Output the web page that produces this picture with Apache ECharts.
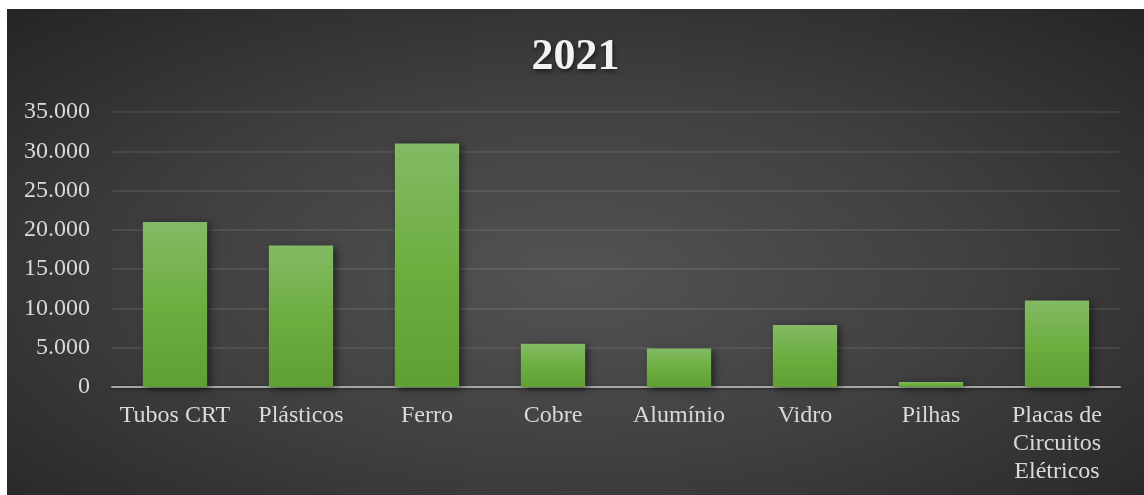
<!DOCTYPE html>
<html>
<head>
<meta charset="utf-8">
<script src="https://cdn.jsdelivr.net/npm/echarts@6/dist/echarts.min.js"></script>
<style>
  html, body { margin: 0; padding: 0; background: #ffffff; }
  #chart {
    position: absolute; left: 7px; top: 9px; width: 1137px; height: 486px;
    background: radial-gradient(ellipse 70% 75% at 50% 55%, #535353 0%, #404040 50%, #262626 100%);
  }
</style>
</head>
<body>
<div id="chart"></div>
<script>
// Resíduos eletrônicos por material, 2021
const titleText = '2021';
const categories = ['Tubos CRT', 'Plásticos', 'Ferro', 'Cobre', 'Alumínio', 'Vidro', 'Pilhas', 'Placas de\nCircuitos\nElétricos'];
const values = [21000, 18000, 31000, 5500, 4900, 7900, 650, 11000];
const yMin = 0, yMax = 35000, yStep = 5000;

const serif = '"Liberation Serif", "Times New Roman", serif';
const fmt = v => String(v).replace(/\B(?=(\d{3})+(?!\d))/g, '.');

const chart = echarts.init(document.getElementById('chart'), null, { renderer: 'canvas' });
chart.setOption({
  backgroundColor: 'transparent',
  animation: false,
  title: {
    text: titleText,
    left: 'center',
    top: 22,
    textStyle: {
      fontFamily: serif, fontWeight: 'bold', fontSize: 44, color: '#f2f2f2',
      textShadowColor: 'rgba(0,0,0,0.6)', textShadowBlur: 4, textShadowOffsetX: 1, textShadowOffsetY: 2
    }
  },
  grid: { left: 105, right: 24, top: 103, bottom: 108, containLabel: false },
  xAxis: {
    type: 'category',
    data: categories,
    axisLine: { lineStyle: { color: '#a6a6a6', width: 2, shadowColor: 'rgba(0,0,0,0.5)', shadowBlur: 3, shadowOffsetY: 1 } },
    axisTick: { show: false },
    axisLabel: {
      interval: 0, margin: 15, color: '#d9d9d9', fontFamily: serif, fontSize: 24, lineHeight: 28
    }
  },
  yAxis: {
    type: 'value',
    min: yMin, max: yMax, interval: yStep,
    axisLine: { show: false },
    axisTick: { show: false },
    axisLabel: { margin: 22, color: '#d9d9d9', fontFamily: serif, fontSize: 24, formatter: fmt },
    splitLine: { lineStyle: { color: 'rgba(255,255,255,0.11)', width: 1.5 } }
  },
  series: [{
    type: 'bar',
    data: values,
    barWidth: '51%',
    itemStyle: {
      color: new echarts.graphic.LinearGradient(0, 0, 0, 1, [
        { offset: 0, color: '#83ba65' },
        { offset: 0.5, color: '#6eae41' },
        { offset: 1, color: '#5f9f33' }
      ]),
      shadowColor: 'rgba(0,0,0,0.55)', shadowBlur: 8, shadowOffsetX: 3, shadowOffsetY: 2
    }
  }]
});
</script>
</body>
</html>
